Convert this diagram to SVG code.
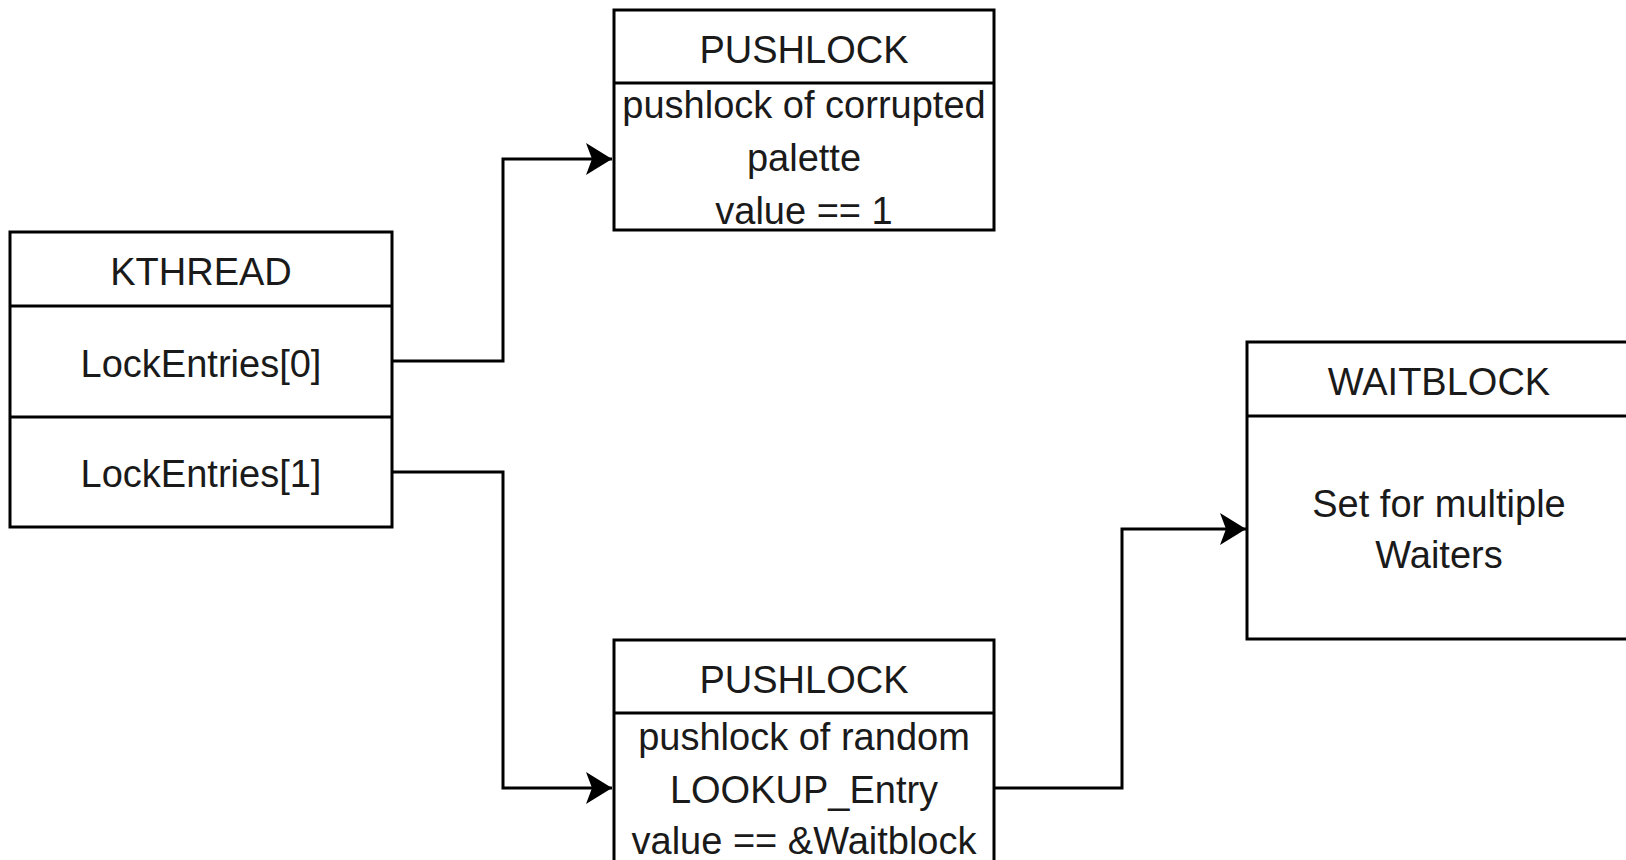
<svg xmlns="http://www.w3.org/2000/svg" width="1626" height="860" viewBox="0 0 1626 860">
<defs>
<style>
.box{fill:#ffffff;stroke:#000000;stroke-width:3}
.sep{stroke:#000000;stroke-width:3;fill:none}
.t{font-family:"Liberation Sans",Arial,sans-serif;font-size:38px;fill:#1a1a1a;text-anchor:middle}
.edge{fill:none;stroke:#000000;stroke-width:3}
</style>
<marker id="arrow" markerUnits="userSpaceOnUse" viewBox="0 0 26 32" refX="26" refY="16" markerWidth="26" markerHeight="32" orient="auto">
<path d="M0,0 L26,16 L0,32 L6,16 Z" fill="#000000"/>
</marker>
</defs>
<rect width="1626" height="860" fill="#ffffff"/>
<g id="connectors">
<path class="edge" d="M392,361 H503 V159 H612" marker-end="url(#arrow)"/>
<path class="edge" d="M392,472 H503 V788 H612" marker-end="url(#arrow)"/>
<path class="edge" d="M994,788 H1122 V529 H1246" marker-end="url(#arrow)"/>
</g>
<g id="kthread">
<rect class="box" x="10" y="232" width="382" height="295"/>
<line class="sep" x1="10" y1="306" x2="392" y2="306"/>
<line class="sep" x1="10" y1="417" x2="392" y2="417"/>
<text class="t" x="201" y="285">KTHREAD</text>
<text class="t" x="201" y="377">LockEntries[0]</text>
<text class="t" x="201" y="487">LockEntries[1]</text>
</g>
<g id="pushlock1">
<rect class="box" x="614" y="10" width="380" height="220"/>
<line class="sep" x1="614" y1="83" x2="994" y2="83"/>
<text class="t" x="804" y="63">PUSHLOCK</text>
<text class="t" x="804" y="118">pushlock of corrupted</text>
<text class="t" x="804" y="171">palette</text>
<text class="t" x="804" y="224">value == 1</text>
</g>
<g id="pushlock2">
<rect class="box" x="614" y="640" width="380" height="240"/>
<line class="sep" x1="614" y1="713" x2="994" y2="713"/>
<text class="t" x="804" y="693">PUSHLOCK</text>
<text class="t" x="804" y="750">pushlock of random</text>
<text class="t" x="804" y="803">LOOKUP_Entry</text>
<text class="t" x="804" y="854">value == &amp;Waitblock</text>
</g>
<g id="waitblock">
<rect class="box" x="1247" y="342" width="384" height="297"/>
<line class="sep" x1="1247" y1="416" x2="1631" y2="416"/>
<text class="t" x="1439" y="395">WAITBLOCK</text>
<text class="t" x="1439" y="517">Set for multiple</text>
<text class="t" x="1439" y="568">Waiters</text>
</g>
</svg>
